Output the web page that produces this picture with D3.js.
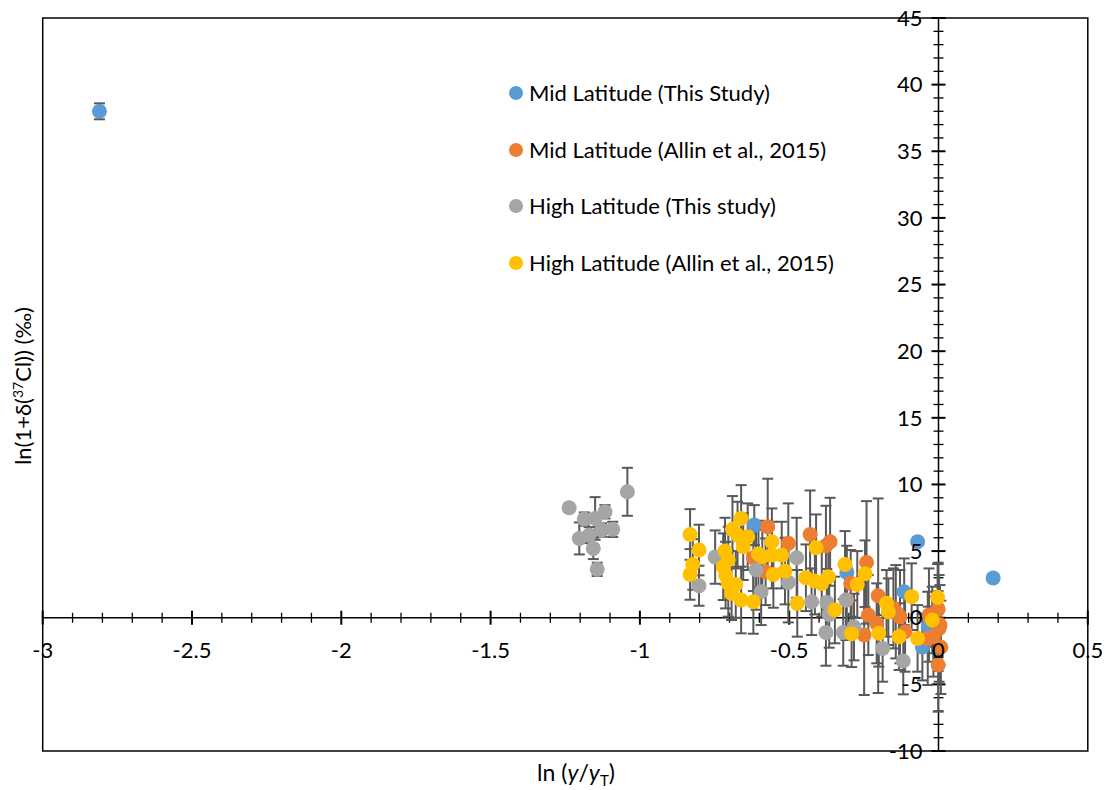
<!DOCTYPE html>
<html>
<head>
<meta charset="utf-8">
<script src="https://cdn.jsdelivr.net/npm/d3@7"></script>
<style>
  body { margin: 0; background: #ffffff; }
  #chart { width: 1113px; height: 790px; }
</style>
</head>
<body>
<div id="chart"></div>
<script>
// Scatter of ln(1+d37Cl) against ln(y/yT) with y error bars.
// Each point is [x, y, y error].

var seriesNames = [
    "Mid Latitude (This Study)",
    "Mid Latitude (Allin et al., 2015)",
    "High Latitude (This study)",
    "High Latitude (Allin et al., 2015)"
];

var seriesColors = ["#5b9bd5", "#ed7d31", "#a5a5a5", "#ffc000"];

var midThisStudy = [
    [-2.81, 38.0, 0.6], [-0.617, 6.95, 1.5], [-0.307, 3.4, 2.0], [-0.115, 1.95, 2.5],
    [-0.070, 5.7, 0.3], [-0.054, -2.2, 2.5], [-0.034, -0.67, 1.5], [0.183, 2.98, 0.3]
];

var midAllin = [
    [-0.62, 4.5, 2.5], [-0.579, 3.45, 2.5], [-0.572, 6.83, 3.6], [-0.503, 5.58, 3.0],
    [-0.43, 6.25, 3.3], [-0.377, 5.4, 3.0], [-0.363, 5.7, 3.3], [-0.307, 1.33, 2.5],
    [-0.294, 2.58, 2.5], [-0.249, -1.3, 4.5], [-0.241, 4.15, 4.6], [-0.235, 0.2, 3.0],
    [-0.207, -0.42, 3.0], [-0.202, 1.65, 7.3], [-0.151, 0.7, 3.0], [-0.143, 0.45, 3.5],
    [-0.129, 0.08, 3.5], [-0.112, -1.05, 3.0], [-0.036, -1.55, 3.5], [-0.032, 0.2, 3.5],
    [-0.017, -1.42, 3.0], [-0.001, 0.63, 3.5], [0.002, -0.8, 4.0], [0.005, -0.55, 3.0],
    [0.008, -2.22, 3.5], [-0.001, -3.55, 3.5]
];

var highThisStudy = [
    [-1.237, 8.25, 0.3], [-1.203, 5.95, 1.2], [-1.186, 7.4, 0.5], [-1.170, 6.2, 0.6],
    [-1.156, 5.2, 0.8], [-1.150, 7.45, 1.6], [-1.143, 3.63, 0.5], [-1.128, 6.58, 0.5],
    [-1.117, 7.95, 0.5], [-1.091, 6.63, 0.57], [-1.042, 9.45, 1.8], [-0.802, 2.4, 1.5],
    [-0.748, 4.55, 2.0], [-0.611, 3.6, 3.0], [-0.594, 1.95, 2.5], [-0.503, 2.65, 3.0],
    [-0.475, 4.5, 3.0], [-0.425, 1.2, 2.5], [-0.374, 1.15, 2.5], [-0.366, 0.25, 2.5],
    [-0.377, -1.1, 2.5], [-0.319, -1.1, 2.5], [-0.310, 1.33, 3.0], [-0.283, -0.7, 2.5],
    [-0.187, -2.3, 2.5], [-0.118, -3.25, 2.5]
];

var highAllin = [
    [-0.832, 6.25, 1.9], [-0.802, 5.08, 1.9], [-0.823, 4.0, 1.9], [-0.832, 3.25, 1.9],
    [-0.715, 5.0, 2.5], [-0.690, 6.63, 2.5], [-0.661, 7.45, 2.5], [-0.673, 6.2, 2.5],
    [-0.654, 5.33, 2.5], [-0.639, 6.08, 2.5], [-0.721, 3.83, 2.5], [-0.704, 4.33, 2.5],
    [-0.713, 3.2, 2.5], [-0.704, 2.58, 2.5], [-0.679, 2.5, 2.5], [-0.693, 1.83, 2.0],
    [-0.661, 1.33, 2.5], [-0.620, 1.2, 2.4], [-0.603, 4.78, 2.5], [-0.558, 5.7, 2.5],
    [-0.558, 4.7, 2.5], [-0.590, 4.58, 2.5], [-0.525, 4.7, 2.5], [-0.553, 3.25, 2.5],
    [-0.514, 3.5, 2.5], [-0.473, 1.08, 2.5], [-0.410, 5.25, 2.5], [-0.444, 3.0, 2.5],
    [-0.414, 2.75, 2.5], [-0.391, 2.58, 2.5], [-0.369, 3.08, 2.5], [-0.347, 0.58, 2.5],
    [-0.313, 4.0, 2.5], [-0.291, -1.2, 2.5], [-0.272, 2.5, 2.5], [-0.246, 3.3, 2.5],
    [-0.200, -1.17, 2.5], [-0.174, 1.08, 2.5], [-0.168, 0.45, 2.5], [-0.132, -1.42, 2.5],
    [-0.090, 1.58, 2.5], [-0.070, -1.55, 2.5], [-0.021, -0.17, 2.5], [-0.003, 1.53, 2.5]
];

var xTicks = [-3, -2.5, -2, -1.5, -1, -0.5, 0, 0.5];
var yTicks = [-10, -5, 0, 5, 10, 15, 20, 25, 30, 35, 40, 45];

(function() {

    var allSeries = [midThisStudy, midAllin, highThisStudy, highAllin];

    var width = 1113;
    var height = 790;
    var font = "Lato, 'Open Sans', sans-serif";

    var svg = d3.select("#chart")
        .append("svg")
        .attr("width", width)
        .attr("height", height);

    var xScale = d3.scaleLinear().domain([-3, 0.5]).range([42.7, 1087.8]);
    var yScale = d3.scaleLinear().domain([-10, 45]).range([751, 18]);

    var x0 = xScale(0);
    var y0 = yScale(0);

    // plot area border
    svg.append("rect")
        .attr("x", xScale(-3))
        .attr("y", yScale(45))
        .attr("width", xScale(0.5) - xScale(-3))
        .attr("height", yScale(-10) - yScale(45))
        .attr("fill", "none")
        .attr("stroke", "#000")
        .attr("stroke-width", 1.5);

    // horizontal axis through y = 0
    svg.append("line")
        .attr("x1", xScale(-3)).attr("x2", xScale(0.5))
        .attr("y1", y0).attr("y2", y0)
        .attr("stroke", "#000").attr("stroke-width", 1.5);

    var xMinor = d3.range(-30, 6).map(function(i) { return i / 10; });
    svg.selectAll(".x-tick")
        .data(xMinor)
        .enter()
        .append("line")
        .attr("x1", function(d) { return xScale(d); })
        .attr("x2", function(d) { return xScale(d); })
        .attr("y1", function(d, i) { return y0 - (i % 5 === 0 ? 7 : 5); })
        .attr("y2", function(d, i) { return y0 + (i % 5 === 0 ? 7 : 5); })
        .attr("stroke", "#000")
        .attr("stroke-width", function(d, i) { return i % 5 === 0 ? 2 : 1.3; });

    // vertical axis through x = 0
    svg.append("line")
        .attr("x1", x0).attr("x2", x0)
        .attr("y1", yScale(-10)).attr("y2", yScale(45))
        .attr("stroke", "#000").attr("stroke-width", 1.5);

    var yMinor = d3.range(-10, 46);
    svg.selectAll(".y-tick")
        .data(yMinor)
        .enter()
        .append("line")
        .attr("y1", function(d) { return yScale(d); })
        .attr("y2", function(d) { return yScale(d); })
        .attr("x1", function(d) { return x0 - (d % 5 === 0 ? 7 : 5); })
        .attr("x2", function(d) { return x0 + (d % 5 === 0 ? 7 : 5); })
        .attr("stroke", "#000")
        .attr("stroke-width", function(d) { return d % 5 === 0 ? 2 : 1.3; });

    // error bars drawn under every marker
    var bars = svg.append("g");
    allSeries.forEach(function(data) {
        data.forEach(function(d) {
            var cx = xScale(d[0]);
            var top = yScale(d[1] + d[2]);
            var bottom = yScale(d[1] - d[2]);
            bars.append("line")
                .attr("x1", cx).attr("x2", cx)
                .attr("y1", top).attr("y2", bottom)
                .attr("stroke", "#595959").attr("stroke-width", 2);
            [top, bottom].forEach(function(yy) {
                bars.append("line")
                    .attr("x1", cx - 5.5).attr("x2", cx + 5.5)
                    .attr("y1", yy).attr("y2", yy)
                    .attr("stroke", "#595959").attr("stroke-width", 2);
            });
        });
    });

    // markers
    allSeries.forEach(function(data, k) {
        svg.append("g")
            .selectAll("circle")
            .data(data)
            .enter()
            .append("circle")
            .attr("cx", function(d) { return xScale(d[0]); })
            .attr("cy", function(d) { return yScale(d[1]); })
            .attr("r", 7.5)
            .attr("fill", seriesColors[k]);
    });

    // tick labels on top
    svg.selectAll(".x-label")
        .data(xTicks)
        .enter()
        .append("text")
        .attr("x", function(d) { return xScale(d); })
        .attr("y", y0 + 40)
        .attr("text-anchor", "middle")
        .attr("font-family", font)
        .attr("font-size", "22px")
        .attr("fill", "#000")
        .text(function(d) { return d; });

    svg.selectAll(".y-label")
        .data(yTicks)
        .enter()
        .append("text")
        .attr("x", x0 - 16)
        .attr("y", function(d) { return yScale(d); })
        .attr("dy", "0.35em")
        .attr("text-anchor", "end")
        .attr("font-family", font)
        .attr("font-size", "22px")
        .attr("fill", "#000")
        .text(function(d) { return d; });

    // axis titles
    var xTitle = svg.append("text")
        .attr("x", 576)
        .attr("y", 781)
        .attr("text-anchor", "middle")
        .attr("font-family", font)
        .attr("font-size", "23px")
        .attr("fill", "#000");
    xTitle.append("tspan").text("ln (");
    xTitle.append("tspan").attr("font-style", "italic").text("y");
    xTitle.append("tspan").text("/");
    xTitle.append("tspan").attr("font-style", "italic").text("y");
    xTitle.append("tspan").attr("font-size", "15px").attr("dy", "5").text("T");
    xTitle.append("tspan").attr("dy", "-5").text(")");

    var yTitle = svg.append("text")
        .attr("transform", "translate(31,386) rotate(-90)")
        .attr("text-anchor", "middle")
        .attr("font-family", font)
        .attr("font-size", "22px")
        .attr("fill", "#000");
    yTitle.append("tspan").text("ln(1+\u03b4(");
    yTitle.append("tspan").attr("font-size", "14px").attr("dy", "-8").text("37");
    yTitle.append("tspan").attr("dy", "8").text("Cl)) (\u2030)");

    // legend
    var legendY = [93, 150, 206, 263];
    seriesNames.forEach(function(name, k) {
        svg.append("circle")
            .attr("cx", 516)
            .attr("cy", legendY[k])
            .attr("r", 7)
            .attr("fill", seriesColors[k]);
        svg.append("text")
            .attr("x", 529)
            .attr("y", legendY[k])
            .attr("dy", "0.35em")
            .attr("font-family", font)
            .attr("font-size", "22px")
            .attr("fill", "#000")
            .text(name);
    });

})();
</script>
</body>
</html>
